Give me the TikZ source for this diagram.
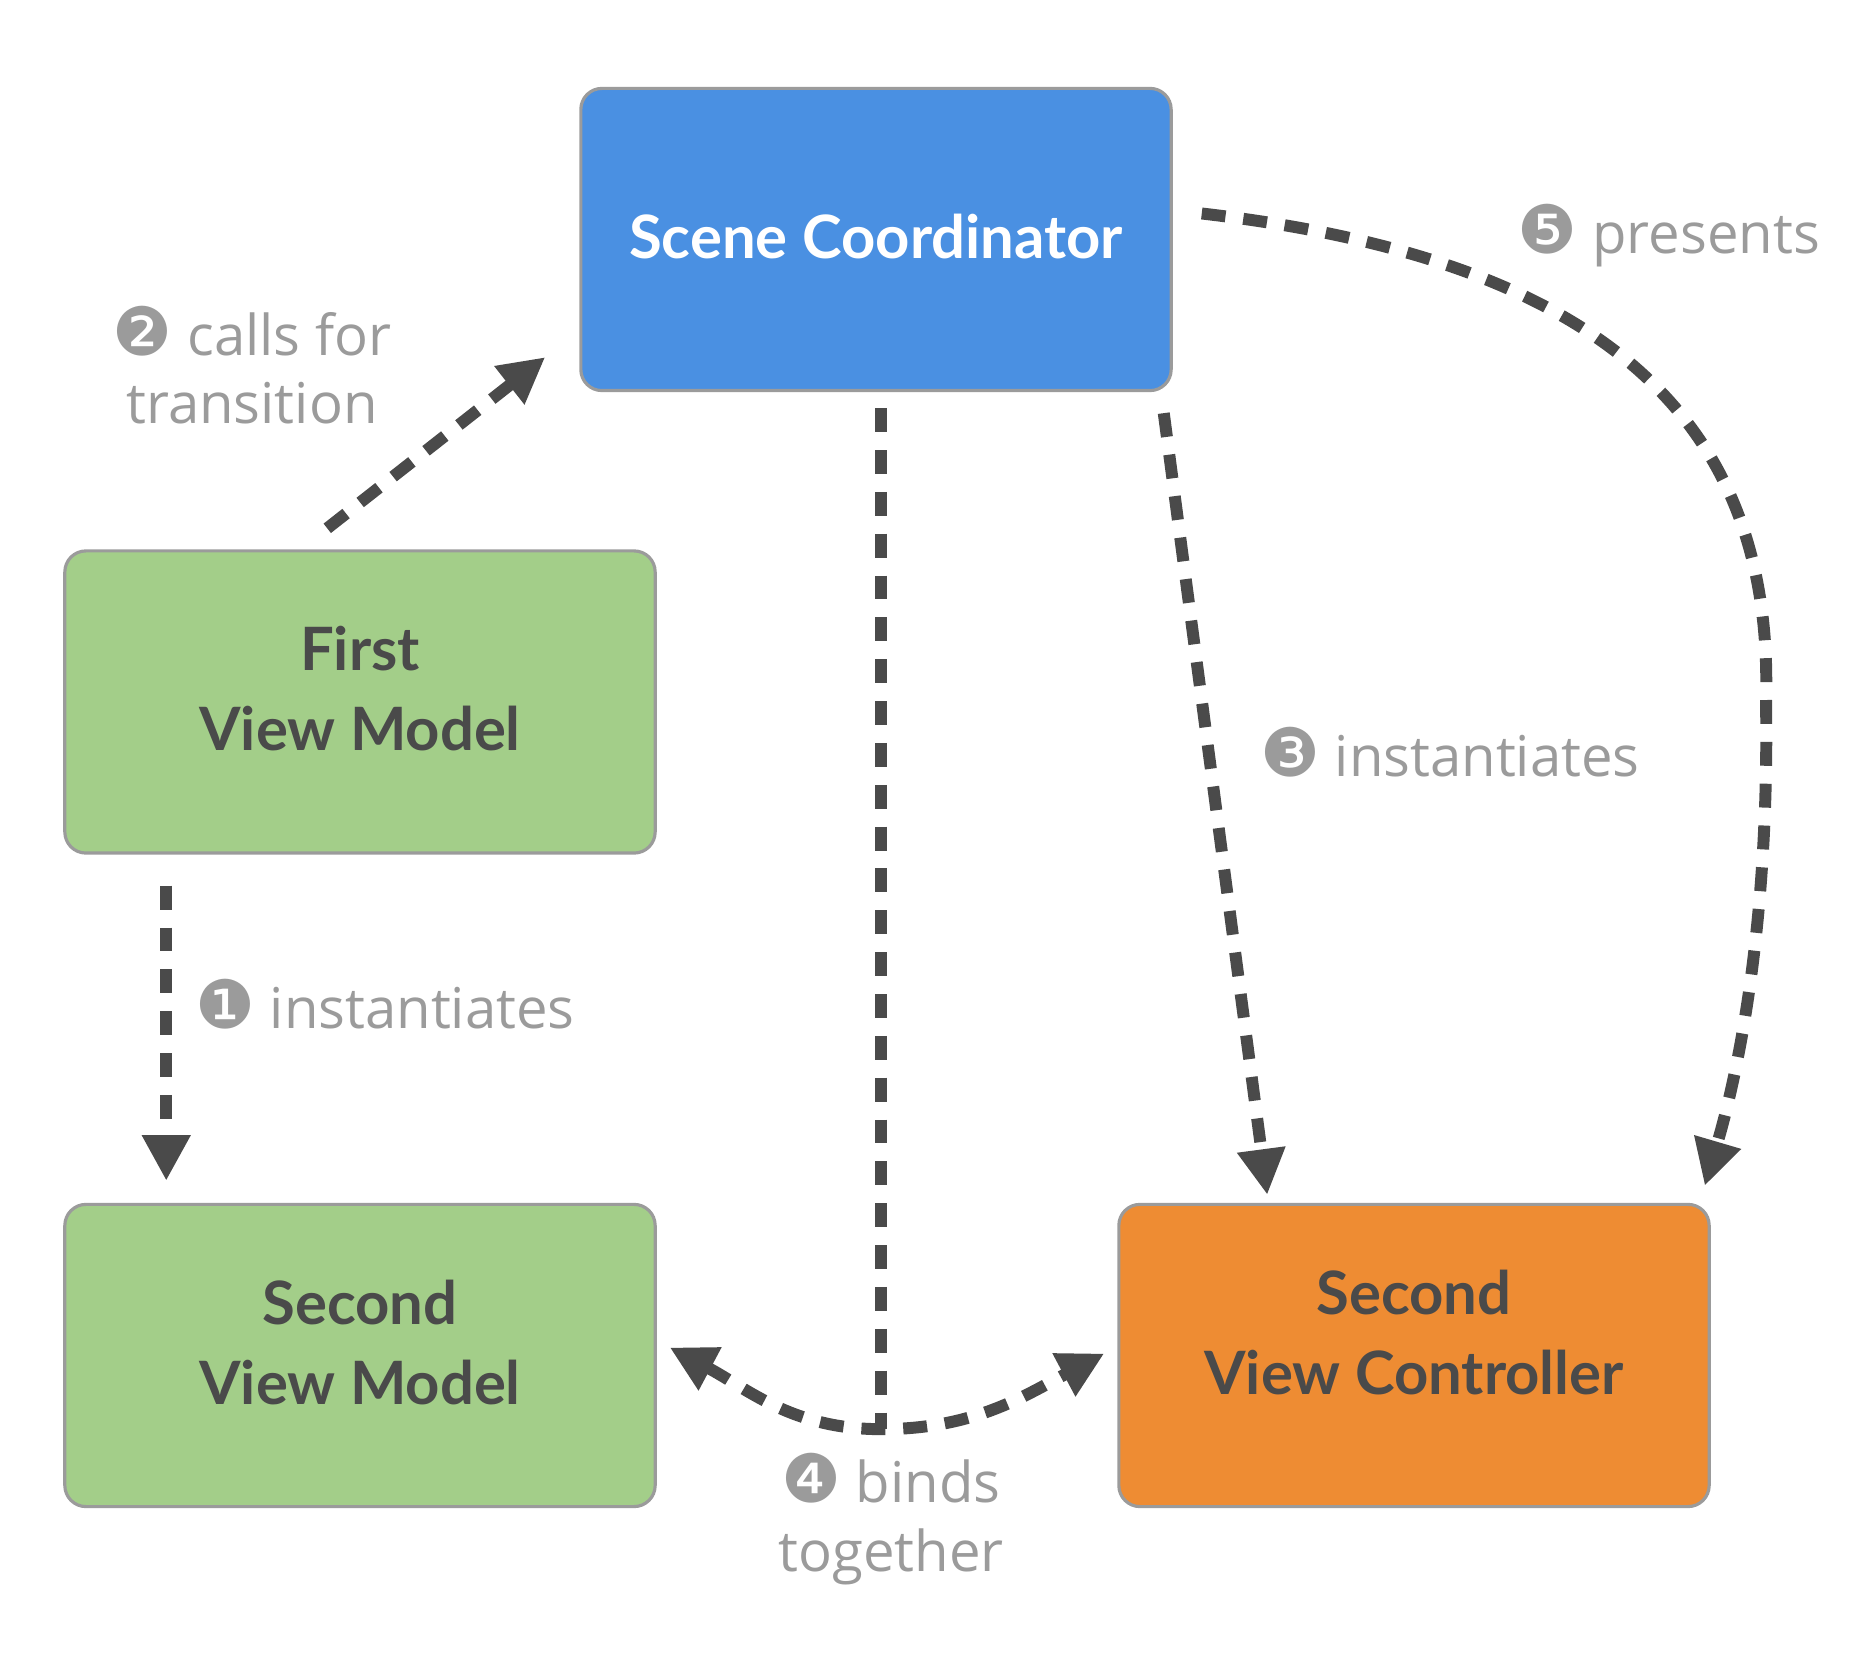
\documentclass[tikz,border=0pt]{standalone}
\usepackage{fontspec}
\setmainfont{Open Sans}
\newfontfamily\boxfont{Lato}
\newfontfamily\dingfont{DejaVu Sans}
\usetikzlibrary{arrows.meta,positioning,calc}
\definecolor{sceneblue}{HTML}{4A90E2}
\definecolor{modelgreen}{HTML}{A3CE89}
\definecolor{ctrlorange}{HTML}{EE8C33}
\definecolor{boxgray}{HTML}{9B9B9B}
\definecolor{darktext}{HTML}{4A4A4A}
\definecolor{notegray}{HTML}{9B9B9B}
\newcommand{\stepnum}[1]{{\dingfont\fontsize{19}{19}\selectfont #1}}

\begin{document}
\begin{tikzpicture}[x=0.01cm,y=-0.01cm,
	box/.style={draw=boxgray, line width=0.9pt, rounded corners=6pt, minimum width=5.9cm, minimum height=3.02cm, align=center, text=darktext, font=\boxfont\bfseries\fontsize{17}{22.7}\selectfont},
	note/.style={align=center, text=notegray, font=\fontsize{16}{19.5}\selectfont},
	flow/.style={draw=darktext, line width=3.4pt, dash pattern=on 6.8pt off 5.1pt, >={Triangle[length=13pt,width=13pt]}, ->}]
	\useasboundingbox (0,0) rectangle (1854,1671);
	% boxes
	\node[box, fill=sceneblue, text=white, text depth=0.06cm] (scene) at (876,239.5) {Scene Coordinator};
	\node[box, fill=modelgreen, text depth=0.27cm] (fvm) at (360,702) {First\\View Model};
	\node[box, fill=modelgreen, text depth=0.27cm] (svm) at (360,1355.5) {Second\\View Model};
	\node[box, fill=ctrlorange, text depth=0.47cm] (svc) at (1414,1355.5) {Second\\View Controller};
	% labels
	\node[note] (lbl1) at (385,1004) {\stepnum{❶} instantiates};
	\node[note] (lbl2) at (252,365) {\stepnum{❷} calls for\\transition};
	\node[note] (lbl3) at (1450,752) {\stepnum{❸} instantiates};
	\node[note] (lbl4) at (891,1519) {\stepnum{❹} binds\\together};
	\node[note] (lbl5) at (1669,236) {\stepnum{❺} presents};
	\coordinate (bind) at ($(scene.south)+(5,1037)$);
	% connectors
	\draw[flow] ($(fvm.south west)+(103,31)$) -- ($(svm.north west)+(103,-22)$);
	\draw[flow] ($(fvm.north west)+(264,-21)$) -- ($(scene.south west)+(-34,-35)$);
	\draw[flow] ($(scene.south east)+(-9,21)$) -- ($(svc.north west)+(150,-8)$);
	\draw[flow, -] ($(scene.south)+(5,16)$) -- (bind);
	\draw[flow, <->] ($(svm.east)+(13,-8)$) to[out=-28,in=180] (bind) to[out=0,in=-152] ($(svc.west)+(-13,-2)$);
	\draw[flow] ($(scene.east)+(29,-26)$) .. controls (1560,255) and (1775,390) .. (1766,700) .. controls (1770,950) and (1730,1100) .. ($(svc.north east)+(-6,-17)$);
\end{tikzpicture}
\end{document}
